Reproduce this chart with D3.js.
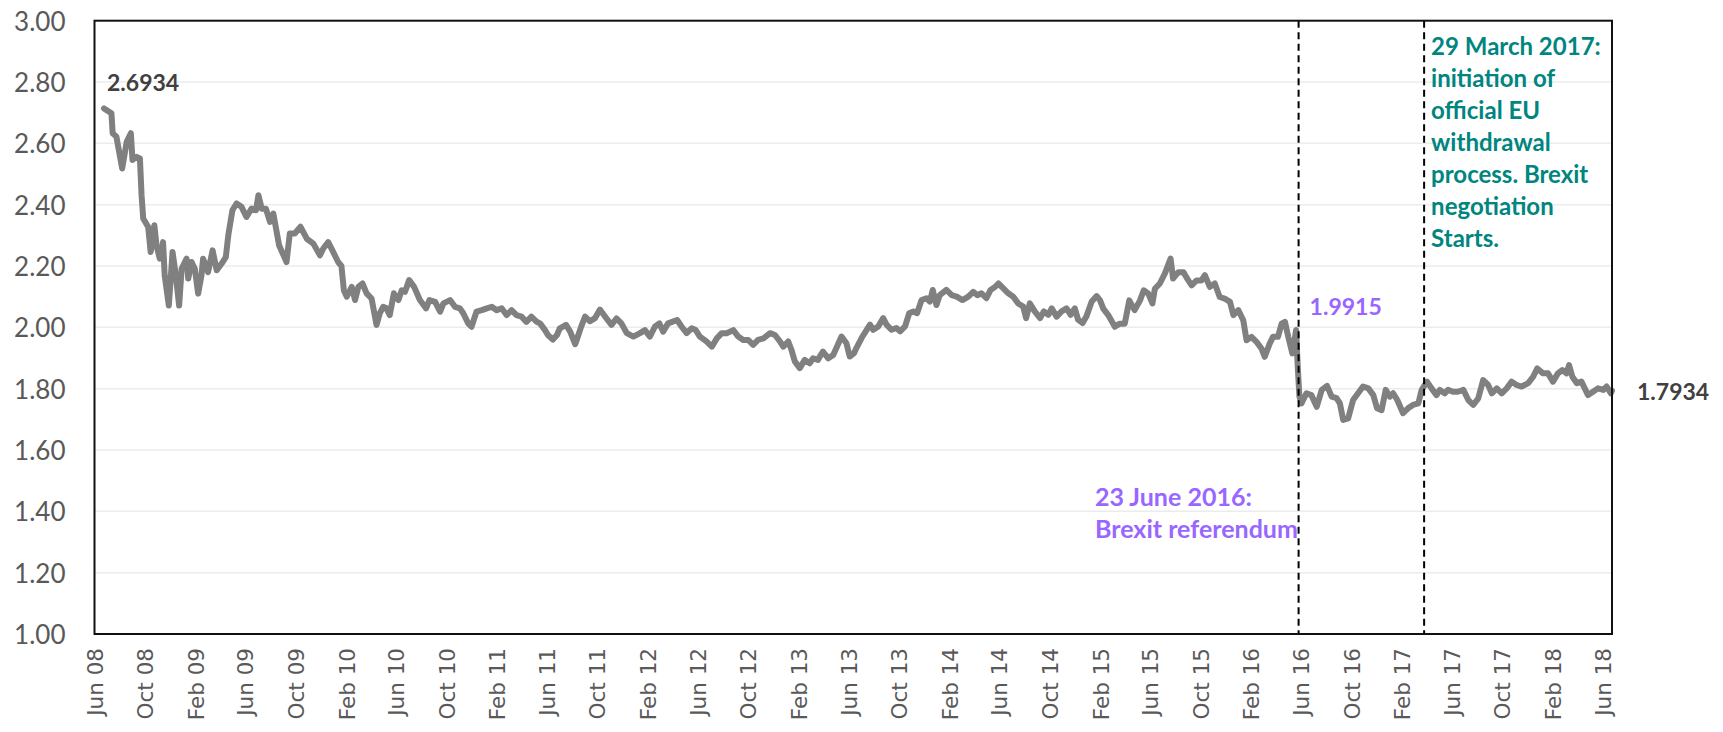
<!DOCTYPE html>
<html>
<head>
<meta charset="utf-8">
<script src="https://cdn.jsdelivr.net/npm/d3@7"></script>
<style>
  html, body { margin: 0; padding: 0; background: #ffffff; }
  svg { display: block; }
</style>
</head>
<body>
<svg id="chart" width="1723" height="732"></svg>
<script>
// ---------------- DATA ----------------
const dates = [
  "2008-06-24","2008-07-12","2008-07-15","2008-07-24","2008-08-07","2008-08-18","2008-08-28","2008-09-01","2008-09-11","2008-09-19",
  "2008-09-23","2008-09-27","2008-10-09","2008-10-15","2008-10-24","2008-10-29","2008-11-06","2008-11-14","2008-11-18","2008-11-28",
  "2008-12-07","2008-12-15","2008-12-23","2008-12-29",
  "2009-01-10","2009-01-14","2009-01-22","2009-01-30","2009-02-07","2009-02-15","2009-02-19","2009-03-03","2009-03-14","2009-03-24",
  "2009-04-05","2009-04-15","2009-04-21","2009-05-01","2009-05-11","2009-05-23","2009-06-04","2009-06-16","2009-06-27","2009-07-03",
  "2009-07-11","2009-07-21","2009-07-31","2009-08-08","2009-08-22","2009-09-09","2009-09-17","2009-09-29","2009-10-13","2009-10-28",
  "2009-11-13","2009-11-29","2009-12-07","2009-12-19","2009-12-27",
  "2010-01-12","2010-01-20","2010-01-26","2010-02-02","2010-02-14","2010-02-22","2010-03-02","2010-03-12","2010-03-22","2010-04-03",
  "2010-04-15","2010-04-23","2010-05-01","2010-05-09","2010-05-17","2010-05-27","2010-06-07","2010-06-15","2010-06-23","2010-07-03",
  "2010-07-15","2010-07-29","2010-08-13","2010-08-21","2010-09-04","2010-09-16","2010-09-24","2010-10-10","2010-10-22","2010-11-03",
  "2010-11-11","2010-11-23","2010-12-01","2010-12-13","2010-12-26",
  "2011-01-07","2011-01-19","2011-01-31","2011-02-12","2011-02-24","2011-03-08","2011-03-20","2011-04-01","2011-04-13","2011-04-25",
  "2011-05-08","2011-05-16","2011-05-28","2011-06-04","2011-06-16","2011-06-26","2011-07-03","2011-07-18","2011-07-28","2011-08-09",
  "2011-08-13","2011-08-23","2011-09-02","2011-09-14","2011-09-26","2011-10-08","2011-10-24","2011-11-05","2011-11-17","2011-11-29",
  "2011-12-12","2011-12-28",
  "2012-01-13","2012-01-25","2012-02-06","2012-02-18","2012-02-29","2012-03-09","2012-03-21","2012-04-12","2012-04-23","2012-05-05",
  "2012-05-17","2012-05-27","2012-06-06","2012-06-22","2012-07-05","2012-07-17","2012-07-29","2012-08-10","2012-08-26","2012-09-07",
  "2012-09-19","2012-10-01","2012-10-13","2012-10-25","2012-11-07","2012-11-23","2012-12-05","2012-12-17","2012-12-25",
  "2013-01-06","2013-01-14","2013-01-22","2013-02-03","2013-02-15","2013-02-27","2013-03-07","2013-03-19","2013-03-31","2013-04-13",
  "2013-04-25","2013-05-04","2013-05-15","2013-05-27","2013-06-04","2013-06-14","2013-06-21","2013-07-03","2013-07-15","2013-07-23",
  "2013-07-31","2013-08-12","2013-08-24","2013-09-01","2013-09-13","2013-09-25","2013-10-04","2013-10-16","2013-10-26","2013-11-05",
  "2013-11-14","2013-11-25","2013-12-07","2013-12-15","2013-12-22","2013-12-31",
  "2014-01-08","2014-01-24","2014-02-06","2014-02-18","2014-03-04","2014-03-18","2014-03-30","2014-04-09","2014-04-19","2014-05-01",
  "2014-05-11","2014-05-22","2014-05-30","2014-06-11","2014-06-23","2014-07-05","2014-07-17","2014-07-29","2014-08-05","2014-08-14",
  "2014-08-26","2014-09-08","2014-09-17","2014-09-28","2014-10-06","2014-10-18","2014-10-30","2014-11-11","2014-11-21","2014-12-01",
  "2014-12-09","2014-12-20","2014-12-29",
  "2015-01-11","2015-01-23","2015-01-31","2015-02-08","2015-02-20","2015-03-08","2015-03-20","2015-04-01","2015-04-12","2015-04-25",
  "2015-05-08","2015-05-17","2015-05-28","2015-06-07","2015-06-13","2015-06-25","2015-07-07","2015-07-21","2015-07-27","2015-08-09",
  "2015-08-21","2015-09-02","2015-09-10","2015-09-22","2015-10-04","2015-10-12","2015-10-24","2015-11-05","2015-11-17","2015-11-29",
  "2015-12-12","2015-12-20",
  "2016-01-01","2016-01-13","2016-01-21","2016-02-02","2016-02-14","2016-02-26","2016-03-05","2016-03-17","2016-03-25","2016-04-06",
  "2016-04-15","2016-04-23","2016-05-01","2016-05-11","2016-05-20","2016-05-24","2016-05-28","2016-06-02","2016-06-14","2016-06-26",
  "2016-07-09","2016-07-21","2016-08-03","2016-08-14","2016-08-26","2016-09-03","2016-09-11","2016-09-23","2016-10-05","2016-10-17",
  "2016-10-29","2016-11-11","2016-11-23","2016-12-02","2016-12-13","2016-12-23",
  "2017-01-02","2017-01-10","2017-01-20","2017-02-03","2017-02-15","2017-02-27","2017-03-12","2017-03-20","2017-04-02","2017-04-13",
  "2017-04-25","2017-05-03","2017-05-15","2017-05-23","2017-06-04","2017-06-16","2017-06-29","2017-07-11","2017-07-23","2017-08-04",
  "2017-08-16","2017-08-28","2017-09-06","2017-09-18","2017-09-30","2017-10-12","2017-10-24","2017-11-05","2017-11-17","2017-12-03",
  "2017-12-15","2017-12-25",
  "2018-01-08","2018-01-20","2018-02-01","2018-02-13","2018-02-24","2018-03-06","2018-03-12","2018-03-20","2018-03-31","2018-04-11",
  "2018-04-27","2018-05-09","2018-05-21","2018-06-03","2018-06-11","2018-06-21","2018-06-24"
];
const values = [
  2.714,2.698,2.633,2.622,2.518,2.605,2.633,2.546,2.556,2.551,
  2.431,2.355,2.327,2.246,2.333,2.268,2.224,2.278,2.169,2.071,
  2.246,2.169,2.071,2.191,
  2.224,2.159,2.213,2.191,2.110,2.169,2.224,2.180,2.251,2.186,
  2.208,2.229,2.300,2.382,2.404,2.393,2.360,2.387,2.382,2.431,
  2.387,2.387,2.344,2.371,2.268,2.213,2.306,2.306,2.328,2.289,
  2.273,2.235,2.257,2.278,2.257,
  2.213,2.200,2.120,2.100,2.132,2.089,2.132,2.143,2.111,2.094,
  2.008,2.046,2.067,2.062,2.040,2.111,2.089,2.121,2.116,2.154,
  2.132,2.089,2.062,2.089,2.083,2.051,2.078,2.089,2.067,2.062,
  2.046,2.013,2.002,2.051,2.056,
  2.062,2.067,2.056,2.062,2.040,2.056,2.040,2.035,2.018,2.035,
  2.018,2.013,1.991,1.975,1.960,1.975,1.997,2.008,1.986,1.945,
  1.960,2.000,2.035,2.020,2.030,2.058,2.029,2.008,2.029,2.013,
  1.981,1.970,
  1.981,1.991,1.970,2.002,2.013,1.986,2.013,2.024,2.002,1.981,
  1.997,1.991,1.970,1.954,1.937,1.964,1.981,1.981,1.991,1.970,
  1.959,1.959,1.943,1.959,1.964,1.981,1.975,1.954,1.937,
  1.954,1.926,1.889,1.867,1.894,1.883,1.899,1.894,1.921,1.899,
  1.910,1.937,1.970,1.948,1.905,1.915,1.935,1.966,1.992,2.009,
  1.992,2.003,2.030,2.009,1.992,1.998,1.987,2.003,2.046,2.052,
  2.046,2.089,2.095,2.084,2.122,2.073,
  2.105,2.122,2.105,2.100,2.089,2.100,2.116,2.105,2.111,2.095,
  2.122,2.132,2.143,2.127,2.111,2.100,2.078,2.068,2.030,2.078,
  2.052,2.030,2.052,2.041,2.062,2.035,2.052,2.062,2.041,2.062,
  2.025,2.014,2.035,
  2.084,2.102,2.089,2.061,2.040,2.002,2.012,2.012,2.088,2.056,
  2.088,2.121,2.110,2.078,2.126,2.143,2.175,2.224,2.159,2.180,
  2.180,2.153,2.137,2.153,2.153,2.170,2.132,2.143,2.099,2.094,
  2.083,2.040,
  2.056,2.023,1.958,1.969,1.953,1.931,1.904,1.947,1.969,1.969,
  2.012,2.018,1.969,1.915,1.9915,1.870,1.775,1.752,1.785,1.779,
  1.741,1.796,1.809,1.774,1.769,1.752,1.698,1.703,1.763,1.785,
  1.807,1.801,1.779,1.736,1.730,1.796,
  1.774,1.785,1.763,1.720,1.736,1.747,1.752,1.796,1.823,1.801,
  1.779,1.796,1.785,1.796,1.790,1.790,1.796,1.763,1.747,1.768,
  1.828,1.812,1.785,1.801,1.785,1.801,1.823,1.812,1.807,1.818,
  1.839,1.866,
  1.850,1.850,1.823,1.850,1.861,1.850,1.877,1.839,1.818,1.823,
  1.779,1.790,1.801,1.796,1.807,1.785,1.7934
];
const tickDates = [
  "2008-06-01","2008-10-01","2009-02-01","2009-06-01","2009-10-01","2010-02-01","2010-06-01","2010-10-01",
  "2011-02-01","2011-06-01","2011-10-01","2012-02-01","2012-06-01","2012-10-01","2013-02-01","2013-06-01",
  "2013-10-01","2014-02-01","2014-06-01","2014-10-01","2015-02-01","2015-06-01","2015-10-01","2016-02-01",
  "2016-06-01","2016-10-01","2017-02-01","2017-06-01","2017-10-01","2018-02-01","2018-06-01"
];
const yTicks = [1.0, 1.2, 1.4, 1.6, 1.8, 2.0, 2.2, 2.4, 2.6, 2.8, 3.0];
const xDomain = ["2008-06-01", "2018-06-24"];
const startValueLabel = "2.6934";
const preVoteValue = 1.9915;
const endValueLabel = "1.7934";
const eventDates = ["2016-05-26", "2017-03-26"];   // positions of the dashed lines as drawn
const referendumText = ["23 June 2016:", "Brexit referendum"];
const article50Text = ["29 March 2017:", "initiation of", "official EU", "withdrawal",
                       "process. Brexit", "negotiation", "Starts."];

// ---------------- CHART ----------------
const parse = d3.timeParse("%Y-%m-%d");
const data = dates.map((d, i) => ({ date: parse(d), value: values[i] }));

const m = { left: 94.5, right: 1612, top: 20.7, bottom: 634 };
const svg = d3.select("#chart");

const x = d3.scaleTime().domain(xDomain.map(parse)).range([m.left, m.right]);
const y = d3.scaleLinear().domain([1, 3]).range([m.bottom, m.top]);

svg.append("rect").attr("width", 1723).attr("height", 732).attr("fill", "#ffffff");

// gridlines
svg.append("g").selectAll("line")
  .data(yTicks.filter(v => v > 1 && v < 3))
  .join("line")
  .attr("x1", m.left).attr("x2", m.right)
  .attr("y1", d => y(d)).attr("y2", d => y(d))
  .attr("stroke", "#ececec").attr("stroke-width", 1.5);

// y axis labels
const yAxis = d3.axisLeft(y).tickValues(yTicks).tickFormat(d3.format(".2f"))
  .tickSize(0).tickPadding(29);
const gy = svg.append("g").attr("transform", `translate(${m.left},0)`).call(yAxis);
gy.select(".domain").remove();
gy.selectAll("text")
  .attr("font-family", "Lato, 'Open Sans', sans-serif")
  .attr("font-size", 26)
  .attr("fill", "#595959")
  .attr("dy", "0.36em");

// x axis labels
const xAxis = d3.axisBottom(x).tickValues(tickDates.map(parse))
  .tickFormat(d3.timeFormat("%b %y")).tickSize(0);
const gx = svg.append("g").attr("transform", `translate(0,${m.bottom})`).call(xAxis);
gx.select(".domain").remove();
gx.selectAll("text")
  .attr("font-family", "'DejaVu Sans', sans-serif")
  .attr("font-size", 21.5)
  .attr("fill", "#595959")
  .attr("transform", "rotate(-90)")
  .attr("x", -14).attr("y", 0).attr("dy", "0.36em")
  .style("text-anchor", "end");

// series line
const line = d3.line().x(d => x(d.date)).y(d => y(d.value)).curve(d3.curveLinear);
svg.append("path").datum(data)
  .attr("d", line)
  .attr("fill", "none")
  .attr("stroke", "#808080")
  .attr("stroke-width", 6)
  .attr("stroke-linejoin", "round")
  .attr("stroke-linecap", "round");

// event dashed lines
svg.append("g").selectAll("line")
  .data(eventDates.map(parse))
  .join("line")
  .attr("x1", d => x(d)).attr("x2", d => x(d))
  .attr("y1", m.top).attr("y2", m.bottom)
  .attr("stroke", "#000").attr("stroke-width", 2)
  .attr("stroke-dasharray", "7,4.5");

// plot border
svg.append("rect")
  .attr("x", m.left).attr("y", m.top)
  .attr("width", m.right - m.left).attr("height", m.bottom - m.top)
  .attr("fill", "none").attr("stroke", "#111").attr("stroke-width", 2);

// value labels
function applyFont(sel, size) {
  return sel.attr("font-family", "Lato, 'Open Sans', sans-serif")
    .attr("font-weight", 700).attr("font-size", size);
}
applyFont(svg.append("text"), 23)
  .attr("x", x(data[0].date) + 3).attr("y", y(+startValueLabel) - 24)
  .attr("fill", "#404040").text(startValueLabel);

applyFont(svg.append("text"), 23)
  .attr("x", x(parse(eventDates[0])) + 11).attr("y", y(preVoteValue) - 15)
  .attr("fill", "#9966ff").text(d3.format(".4f")(preVoteValue));

applyFont(svg.append("text"), 23)
  .attr("x", m.right + 25).attr("y", y(+endValueLabel) + 9)
  .attr("fill", "#404040").text(endValueLabel);

// referendum annotation
applyFont(svg.append("text"), 25)
  .attr("fill", "#9966ff")
  .selectAll("tspan").data(referendumText).join("tspan")
  .attr("x", 1095).attr("y", (d, i) => 506 + i * 31.5)
  .text(d => d);

// article 50 annotation
applyFont(svg.append("text"), 24)
  .attr("fill", "#00857f")
  .selectAll("tspan").data(article50Text).join("tspan")
  .attr("x", x(parse(eventDates[1])) + 7).attr("y", (d, i) => 55 + i * 32)
  .text(d => d);
</script>
</body>
</html>
